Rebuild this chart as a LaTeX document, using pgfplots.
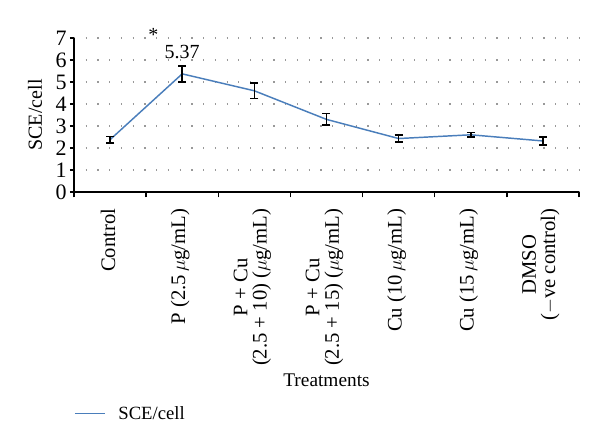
\documentclass[border=0pt]{standalone}
\usepackage{pgfplots}
\pgfplotsset{compat=1.18}
\usepackage{fontspec}
\setmainfont{Liberation Serif}
\definecolor{sceblue}{RGB}{74,126,187}

\begin{document}
\begin{tikzpicture}
\begin{axis}[
    name=ax,
    scale only axis,
    width=378.75pt,
    height=115.5pt,
    clip=false,
    font=\fontsize{14.5}{14}\selectfont,
    /pgf/number format/assume math mode=true,
    xmin=-0.5, xmax=6.5,
    ymin=0, ymax=7,
    axis x line*=bottom,
    axis y line*=left,
    axis line style={-, line width=1pt},
    tick align=outside,
    xtick={0,...,6},
    xticklabels={
        Control,
        P (2.5\,$\mu$g/mL),
        {P + Cu\\(2.5 + 10) ($\mu$g/mL)},
        {P + Cu\\(2.5 + 15) ($\mu$g/mL)},
        Cu (10\,$\mu$g/mL),
        Cu (15\,$\mu$g/mL),
        {DMSO\\($-$ve control)}
    },
    major x tick style={draw=none},
    minor xtick={-0.5,0.5,...,6.5},
    minor tick length=4pt,
    minor x tick style={black, line width=1pt},
    xticklabel style={yshift=-6pt, xshift=-1.5pt, rotate=90, anchor=east, align=center,
        font=\fontsize{15.5}{14.5}\selectfont},
    ytick={0,...,7},
    major tick length=3pt,
    major y tick style={black, line width=1pt},
    yticklabel style={font=\fontsize{16.5}{16}\selectfont, xshift=1pt},
    ymajorgrids=true,
    grid style={gray!80, line width=0.9pt, dash pattern=on 0.9pt off 7.9pt},
    xlabel={Treatments},
    xlabel style={at={(rel axis cs:0.5,-1.22)}, anchor=center},
    ylabel={SCE/cell},
    ylabel style={at={(rel axis cs:-0.077,0.5)}, anchor=center,
        font=\fontsize{15}{14}\selectfont},
    legend style={at={(rel axis cs:0,-1.44)}, anchor=west, draw=none, fill=none,
        inner xsep=0pt, font=\fontsize{14}{14}\selectfont},
    legend image code/.code={\draw[#1] (0pt,0pt) -- (22.5pt,0pt); \path (30pt,0pt);},
]
\addplot[sceblue, line width=1.1pt, mark=none,
    error bars/.cd, y dir=both, y explicit,
    error bar style={black, line width=1.1pt},
    error mark options={rotate=90, mark size=3pt, black, line width=1.1pt}]
    table[x=x, y=y, y error=e] {
        x y    e
        0 2.38 0.15
        1 5.37 0.36
        2 4.60 0.36
        3 3.30 0.26
        4 2.43 0.16
        5 2.60 0.10
        6 2.32 0.18
    };
\addlegendentry{SCE/cell}
\node[font=\fontsize{15}{14}\selectfont] at (axis cs:1,6.36) {5.37};
\node[font=\fontsize{15}{14}\selectfont] at (axis cs:0.6,7.15) {*};
\coordinate (bl) at (rel axis cs:0,0);
\end{axis}
\pgfresetboundingbox
\path ([shift={(-55.5pt,-192pt)}]bl) rectangle ([shift={(394.5pt,144pt)}]bl);
\end{tikzpicture}
\end{document}
